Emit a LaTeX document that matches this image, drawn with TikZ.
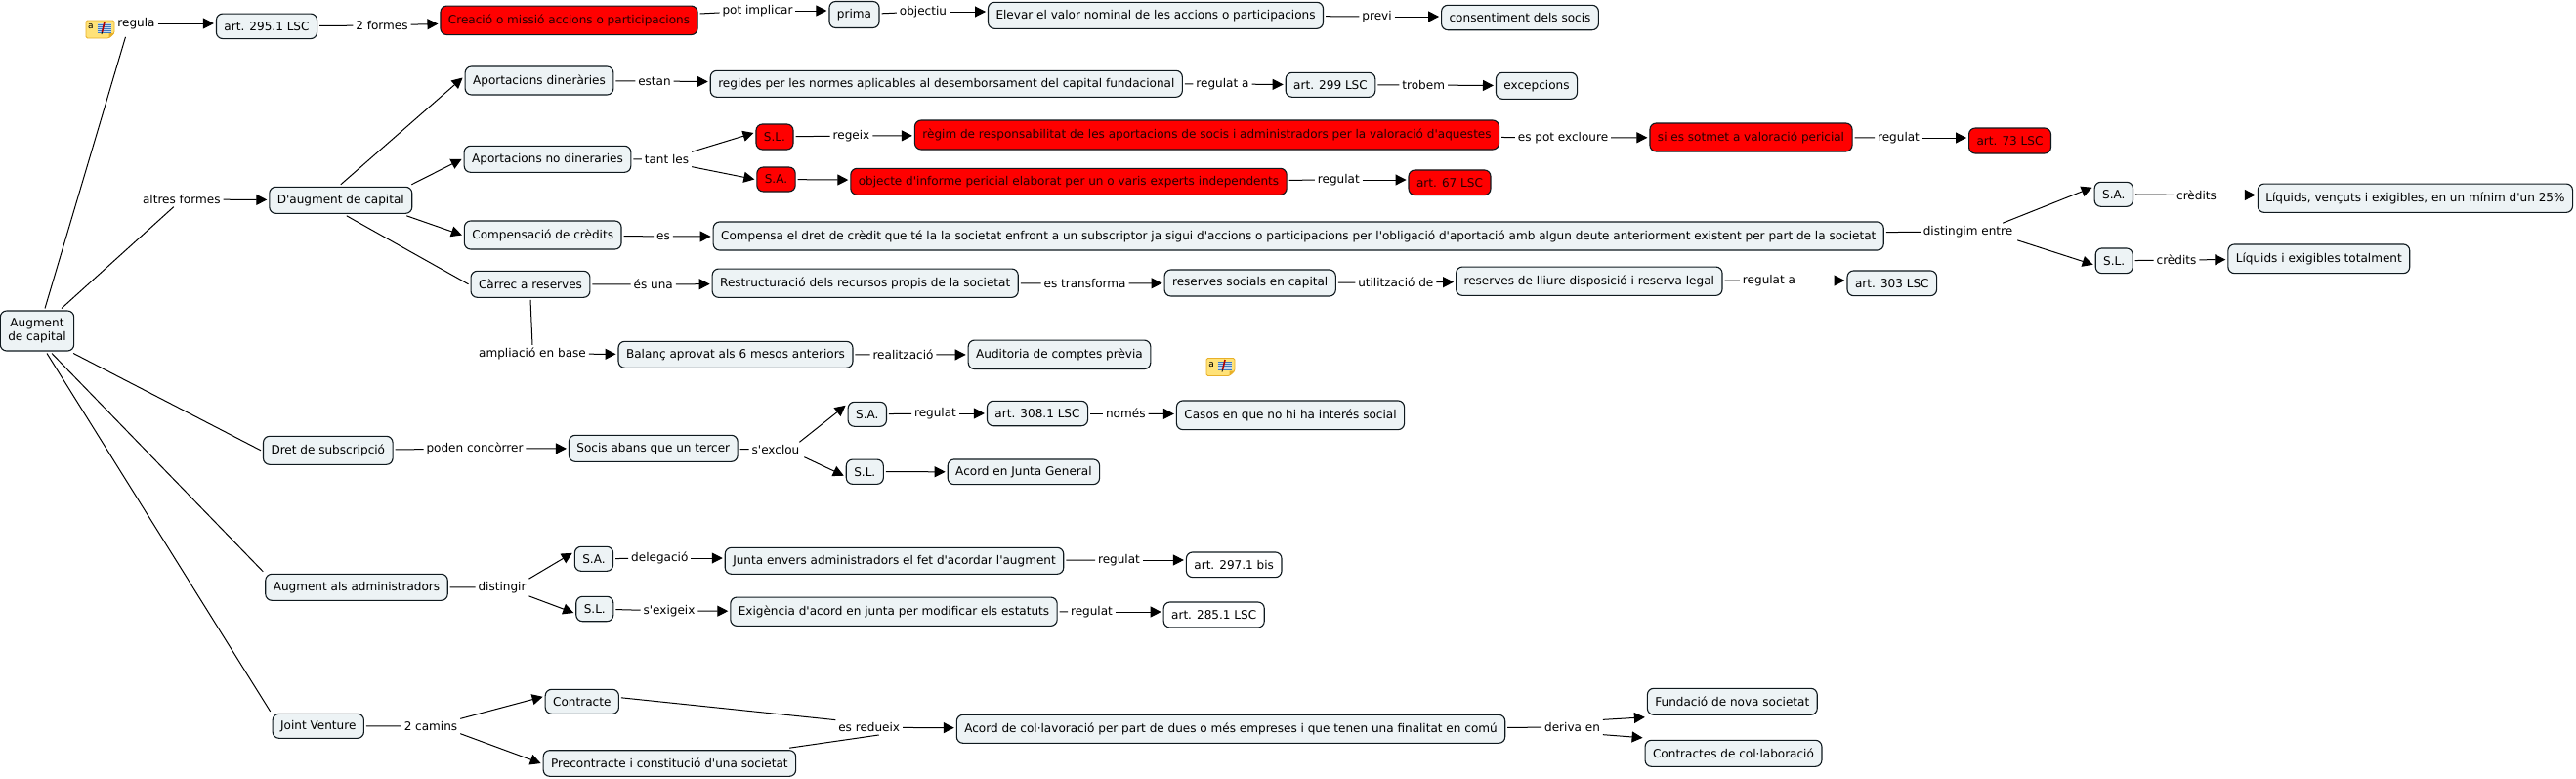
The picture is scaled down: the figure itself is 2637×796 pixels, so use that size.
\documentclass[tikz,border=0pt]{standalone}
\usepackage{fontspec}
\setmainfont{DejaVu Sans}[Ligatures=TeXOff]
\usepackage{xcolor}
\usetikzlibrary{arrows.meta, positioning, calc}
\definecolor{boxfill}{RGB}{237,243,245}
\definecolor{boxline}{RGB}{15,25,30}
\definecolor{notefill}{RGB}{255,226,120}
\definecolor{noteline}{RGB}{232,176,40}
\definecolor{noteblue}{RGB}{60,120,190}
\tikzset{
  concept/.style={rectangle, draw=boxline, fill=boxfill, rounded corners=6.5pt,
    minimum height=27pt, inner xsep=8pt, inner ysep=0pt, outer sep=2.5pt,
    font=\fontsize{12.05}{14.5}\selectfont, line width=1.1pt, align=center},
  redconcept/.style={concept, fill=red, text=black!85!red},
  plainconcept/.style={concept, fill=white},
  linklabel/.style={rectangle, inner xsep=0pt, inner ysep=1pt, outer xsep=3pt, outer ysep=2pt,
    font=\fontsize{12.05}{15}\selectfont},
  line/.style={line width=1pt, color=black},
  arrow/.style={-{Triangle[length=11pt, width=11pt]}, line width=1pt, color=black},
  notepic/.pic={
    \fill[notefill, draw=noteline, line width=0.8pt, rounded corners=1.5pt]
      (-14.5,-9) -- (14.5,-9) -- (14.5,4) -- (9,9) -- (-14.5,9) -- cycle;
    \fill[noteline] (14.5,4) -- (9,4) -- (9,9) -- cycle;
    \node[font=\fontsize{9}{9}\selectfont, inner sep=0pt] (-a) at (-9.5,-2.5) {a};
    \fill[white!70!noteblue] (-3,-6) rectangle (11,3);
    \foreach \liney in {-5,-3,-1,1,3}
      \draw[noteblue, line width=0.7pt] (-3,\liney) -- (11,\liney);
    \draw[red!70!black, line width=1.6pt] (4.5,-7.5) -- (2,3);
    \draw[black, line width=0.8pt] (2,3) -- (1.5,5);
  }
}

\begin{document}
\begin{tikzpicture}[x=1pt, y=-1pt]
  \useasboundingbox (0,0) rectangle (2637,796);

  % Root
  \node[concept, minimum height=41pt] (augment) at (38,338.5) {Augment\\de capital};

  % Top row
  \node[linklabel] (regula) at (139.5,24) {regula};
  \pic at (102.5,30) {notepic};
  \node[concept, minimum height=25.5pt] (art295) at (273,26.8) {art. 295.1 LSC};
  \node[linklabel] (formes) at (391,26) {2 formes};
  \node[redconcept, minimum height=29.5pt] (creacio) at (582.5,20.8) {Creació o missió accions o participacions};
  \node[linklabel] (implicar) at (775.5,11) {pot implicar};
  \node[concept] (prima) at (874.5,15) {prima};
  \node[linklabel] (objectiu) at (945,12) {objectiu};
  \node[concept] (elevar) at (1183,15.8) {Elevar el valor nominal de les accions o participacions};
  \node[linklabel] (previ) at (1409.5,17) {previ};
  \node[concept, minimum height=25.4pt] (consent) at (1556,18) {consentiment dels socis};

  % D'augment de capital
  \node[linklabel] (altres) at (185.8,204) {altres formes};
  \node[concept] (daugment) at (348.8,204.8) {D'augment de capital};

  \node[concept, minimum height=29pt] (apdin) at (552,82.5) {Aportacions dineràries};
  \node[linklabel] (estan) at (670,83) {estan};
  \node[concept] (regides) at (968.8,85.8) {regides per les normes aplicables al desemborsament del capital fundacional};
  \node[linklabel] (regulata) at (1251.5,86) {regulat a};
  \node[concept, minimum height=25pt] (art299) at (1362,86.8) {art. 299 LSC};
  \node[linklabel] (trobem) at (1457.2,87) {trobem};
  \node[concept] (excep) at (1573,87.8) {excepcions};

  \node[concept] (apnodin) at (560.5,162.8) {Aportacions no dineraries};
  \node[linklabel] (tant) at (682.5,163) {tant les};
  \node[redconcept, minimum height=26pt] (slred) at (793,140) {S.L.};
  \node[redconcept, minimum height=25pt] (sared) at (794.5,183.5) {S.A.};
  \node[linklabel] (regeix) at (871.5,139) {regeix};
  \node[redconcept, minimum height=30pt] (regim) at (1235.5,138) {règim de responsabilitat de les aportacions de socis i administradors per la valoració d'aquestes};
  \node[linklabel] (excloure) at (1600,141) {es pot excloure};
  \node[redconcept, minimum height=29pt] (sotmet) at (1792.5,140.5) {si es sotmet a valoració pericial};
  \node[linklabel] (regulat73) at (1943.5,141) {regulat};
  \node[redconcept, minimum height=26pt] (art73) at (2057.5,144) {art. 73 LSC};
  \node[redconcept] (objecte) at (1094,185.8) {objecte d'informe pericial elaborat per un o varis experts independents};
  \node[linklabel] (regulat67) at (1370.3,184) {regulat};
  \node[redconcept, minimum height=25.7pt] (art67) at (1484,186.8) {art. 67 LSC};

  \node[concept, minimum height=29pt] (compens) at (555.7,240.5) {Compensació de crèdits};
  \node[linklabel] (es) at (679,242) {es};
  \node[concept, minimum height=29pt] (compensa) at (1329.2,241.5) {Compensa el dret de crèdit que té la la societat enfront a un subscriptor ja sigui d'accions o participacions per l'obligació d'aportació amb algun deute anteriorment existent per part de la societat};
  \node[linklabel] (distingim) at (2014.5,237) {distingim entre};
  \node[concept, minimum height=25pt] (sacred) at (2163.8,198.8) {S.A.};
  \node[linklabel] (credits1) at (2248.5,199.5) {crèdits};
  \node[concept, minimum height=29.3pt] (liquids1) at (2472.4,202.7) {Líquids, vençuts i exigibles, en un mínim d'un 25\%};
  \node[concept, minimum height=25.7pt] (slcred) at (2164.2,266.8) {S.L.};
  \node[linklabel] (credits2) at (2228,266) {crèdits};
  \node[concept, minimum height=29.7pt] (liquids2) at (2373.8,264.8) {Líquids i exigibles totalment};

  \node[concept] (carrec) at (543,290.8) {Càrrec a reserves};
  \node[linklabel] (esuna) at (668.7,291) {és una};
  \node[concept, minimum height=29.3pt] (restruct) at (885.7,289.7) {Restructuració dels recursos propis de la societat};
  \node[linklabel] (transf) at (1110.6,290) {es transforma};
  \node[concept] (ressoc) at (1279.7,289.5) {reserves socials en capital};
  \node[linklabel] (utilit) at (1428.8,289) {utilització de};
  \node[concept, minimum height=29.3pt] (reslliure) at (1626.8,287.7) {reserves de lliure disposició i reserva legal};
  \node[linklabel] (regulata2) at (1811,287) {regulat a};
  \node[concept, minimum height=25.7pt] (art303) at (1936.8,289.8) {art. 303 LSC};

  \node[linklabel] (amplia) at (545,362) {ampliació en base};
  \node[concept] (balanc) at (753,362.8) {Balanç aprovat als 6 mesos anteriors};
  \node[linklabel] (realitz) at (924.5,363) {realització};
  \node[concept, minimum height=29.5pt] (auditoria) at (1084.5,362.8) {Auditoria de comptes prèvia};
  \pic at (1249.5,375.5) {notepic};

  % Dret de subscripcio
  \node[concept, minimum height=29pt] (dret) at (335.8,460.8) {Dret de subscripció};
  \node[linklabel] (poden) at (486,459) {poden concòrrer};
  \node[concept] (socis) at (668.8,458.8) {Socis abans que un tercer};
  \node[linklabel] (exclou) at (794,460) {s'exclou};
  \node[concept, minimum height=25pt] (sadret) at (887.8,423.8) {S.A.};
  \node[linklabel] (regulat308) at (957.5,423) {regulat};
  \node[concept, minimum height=25.4pt] (art308) at (1062,423) {art. 308.1 LSC};
  \node[linklabel] (nomes) at (1152.3,423) {només};
  \node[concept, minimum height=29.7pt] (casos) at (1321,424.8) {Casos en que no hi ha interés social};
  \node[concept, minimum height=25.3pt] (sldret) at (885.3,482.7) {S.L.};
  \node[concept, minimum height=25.7pt] (acordjg) at (1047.9,482.8) {Acord en Junta General};

  % Augment als administradors
  \node[concept] (admin) at (365,600.8) {Augment als administradors};
  \node[linklabel] (distingir) at (514,601) {distingir};
  \node[concept, minimum height=25pt] (saadm) at (608,571.8) {S.A.};
  \node[linklabel] (delegacio) at (675.3,571) {delegació};
  \node[concept] (juntaenv) at (915.5,573.8) {Junta envers administradors el fet d'acordar l'augment};
  \node[linklabel] (regulat297) at (1145.5,573) {regulat};
  \node[plainconcept, minimum height=25.7pt] (art297) at (1263.2,577.8) {art. 297.1 bis};
  \node[concept, minimum height=25.4pt] (sladm) at (608.8,623) {S.L.};
  \node[linklabel] (exigeix) at (685,625) {s'exigeix};
  \node[concept, minimum height=29.3pt] (exigencia) at (915,625.7) {Exigència d'acord en junta per modificar els estatuts};
  \node[linklabel] (regulat285) at (1117.5,626) {regulat};
  \node[plainconcept, minimum height=26pt] (art285) at (1242.7,629) {art. 285.1 LSC};

  % Joint Venture
  \node[concept, minimum height=25pt] (joint) at (325.8,742.8) {Joint Venture};
  \node[linklabel] (camins) at (441,743) {2 camins};
  \node[concept, minimum height=25pt] (contracte) at (595.8,717.8) {Contracte};
  \node[concept, minimum height=26.6pt] (precontr) at (685.4,781) {Precontracte i constitució d'una societat};
  \node[linklabel] (redueix) at (889.7,744.3) {es redueix};
  \node[concept, minimum height=29pt] (acordcol) at (1260,745.8) {Acord de col·lavoració per part de dues o més empreses i que tenen una finalitat en comú};
  \node[linklabel] (deriva) at (1609.5,744) {deriva en};
  \node[concept] (fundacio) at (1773.3,717.8) {Fundació de nova societat};
  \node[concept] (contractes) at (1774.5,770.8) {Contractes de col·laboració};

  % Connections from the root
  \draw[line] ([xshift=8pt]augment.north) -- ([xshift=-11pt,yshift=-5pt]regula.south);
  \draw[line] ([xshift=25pt]augment.north) -- ([xshift=-8pt]altres.south);
  \draw[line] ([xshift=-3pt]augment.south east) -- (dret.west);
  \draw[line] ([xshift=15pt]augment.south) -- (admin.north west);
  \draw[line] ([xshift=10pt]augment.south) -- (joint.north west);

  % Top row
  \draw[arrow] (regula) -- (regula -| art295.west);
  \draw[line] (art295) -- (formes);
  \draw[arrow] (formes) -- (creacio);
  \draw[line] (creacio) -- (implicar);
  \draw[arrow] (implicar) -- (implicar -| prima.west);
  \draw[line] (prima) -- (objectiu);
  \draw[arrow] (objectiu) -- (objectiu -| elevar.west);
  \draw[line] (elevar) -- (previ);
  \draw[arrow] (previ) -- (previ -| consent.west);

  % D'augment branches
  \draw[arrow] (altres) -- (daugment);
  \draw[arrow] (daugment.north) -- ([yshift=3pt]apdin.west);
  \draw[arrow] ([xshift=-3pt]daugment.north east) -- (apnodin.west);
  \draw[arrow] ([xshift=-8pt]daugment.south east) -- (compens.west);
  \draw[line] ([xshift=6pt]daugment.south) -- (carrec.west);

  \draw[line] (apdin) -- (estan);
  \draw[arrow] (estan) -- (regides);
  \draw[line] (regides) -- (regulata);
  \draw[arrow] (regulata) -- (art299);
  \draw[line] (art299) -- (trobem);
  \draw[arrow] (trobem) -- (excep);

  \draw[line] (apnodin) -- (tant);
  \draw[arrow] (tant.north east) -- ([yshift=4pt]slred.west);
  \draw[arrow] (tant.south east) -- (sared.west);
  \draw[line] (slred) -- (regeix);
  \draw[arrow] (regeix) -- (regim);
  \draw[line] (regim) -- (excloure);
  \draw[arrow] (excloure) -- (sotmet);
  \draw[line] (sotmet) -- (regulat73);
  \draw[arrow] (regulat73) -- (regulat73 -| art73.west);
  \draw[arrow] (sared) -- (objecte);
  \draw[line] (objecte) -- (regulat67);
  \draw[arrow] (regulat67) -- (regulat67 -| art67.west);

  \draw[line] (compens) -- (es);
  \draw[arrow] (es) -- (compensa);
  \draw[line] (compensa) -- (distingim);
  \draw[arrow] ([xshift=-13pt]distingim.north east) -- ([yshift=7pt]sacred.west);
  \draw[arrow] ([xshift=2pt]distingim.south east) -- ([yshift=-4pt]slcred.west);
  \draw[line] (sacred) -- (credits1);
  \draw[arrow] (credits1) -- (credits1 -| liquids1.west);
  \draw[line] (slcred) -- (credits2);
  \draw[arrow] (credits2) -- (liquids2);

  \draw[line] (carrec) -- (esuna);
  \draw[arrow] (esuna) -- (restruct);
  \draw[line] (restruct) -- (transf);
  \draw[arrow] (transf) -- (ressoc);
  \draw[line] (ressoc) -- (utilit);
  \draw[arrow] (utilit) -- (reslliure);
  \draw[line] (reslliure) -- (regulata2);
  \draw[arrow] (regulata2) -- (regulata2 -| art303.west);
  \draw[line] (carrec.south) -- (amplia.north);
  \draw[arrow] (amplia) -- (balanc);
  \draw[line] (balanc) -- (realitz);
  \draw[arrow] (realitz) -- (auditoria);

  % Dret de subscripcio
  \draw[line] (dret) -- (poden);
  \draw[arrow] (poden) -- (socis);
  \draw[line] (socis) -- (exclou);
  \draw[arrow] ([xshift=-3pt]exclou.north east) -- ([yshift=9pt]sadret.west);
  \draw[arrow] ([xshift=2pt]exclou.south east) -- ([yshift=-4pt]sldret.west);
  \draw[line] (sadret) -- (regulat308);
  \draw[arrow] (regulat308) -- (art308);
  \draw[line] (art308) -- (nomes);
  \draw[arrow] (nomes) -- (casos);
  \draw[arrow] (sldret) -- (acordjg);

  % Augment als administradors
  \draw[line] (admin) -- (distingir);
  \draw[arrow] (distingir.north east) -- ([yshift=6pt]saadm.west);
  \draw[arrow] (distingir.south east) -- ([yshift=-4pt]sladm.west);
  \draw[line] (saadm) -- (delegacio);
  \draw[arrow] (delegacio) -- (delegacio -| juntaenv.west);
  \draw[line] (juntaenv) -- (regulat297);
  \draw[arrow] (regulat297) -- (regulat297 -| art297.west);
  \draw[line] (sladm) -- (exigeix);
  \draw[arrow] (exigeix) -- (exigencia);
  \draw[line] (exigencia) -- (regulat285);
  \draw[arrow] (regulat285) -- (regulat285 -| art285.west);

  % Joint Venture
  \draw[line] (joint) -- (camins);
  \draw[arrow] (camins.north east) -- ([yshift=5pt]contracte.west);
  \draw[arrow] (camins.south east) -- (precontr.west);
  \draw[line] ([yshift=4pt]contracte.east) -- (redueix.north west);
  \draw[line] ([xshift=-9pt]precontr.north east) -- ([xshift=10pt]redueix.south);
  \draw[arrow] (redueix) -- (acordcol);
  \draw[line] (acordcol) -- (deriva);
  \draw[arrow] (deriva.north east) -- (fundacio.south west);
  \draw[arrow] (deriva.south east) -- (contractes.north west);
\end{tikzpicture}
\end{document}
